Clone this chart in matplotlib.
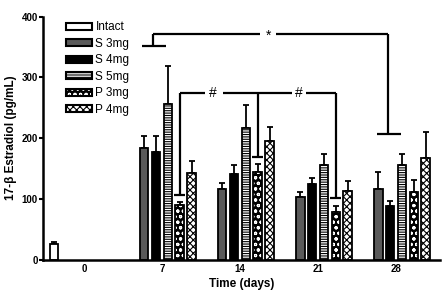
import numpy as np
import matplotlib
matplotlib.use('Agg')
import matplotlib.pyplot as plt
from matplotlib.patches import Patch
from matplotlib.legend_handler import HandlerTuple

# data (nan = no bar)
days = ['0', '7', '14', '21', '28']
groups = ['Intact', 'S 3mg', 'S 4mg', 'S 5mg', 'P 3mg', 'P 4mg']
nan = np.nan
intact = [25.5, nan, nan, nan, nan]
intact_err = [3, nan, nan, nan, nan]
s3 = [nan, 183, 115.5, 103, 116.5]
s3_err = [nan, 20, 10.5, 8.6, 27]
s4 = [nan, 177, 141, 124, 89]
s4_err = [nan, 27, 15, 10, 8]
s5 = [nan, 256, 217, 155.6, 155.6]
s5_err = [nan, 62, 37, 17.4, 17.4]
p3 = [nan, 90, 144.5, 77.7, 110.6]
p3_err = [nan, 4, 12.5, 9.8, 20.4]
p4 = [nan, 143, 195.6, 112.8, 168]
p4_err = [nan, 19, 23, 17, 42]

# significance brackets
star_y = 371
star_left = (0.885, 352)
star_right = (3.90, 206)
hash_y = 273.6
hash_caps = [107, 169, 100.7]   # P3 caps at day 7, 14, 21

plt.rcParams['font.family'] = ['Liberation Sans', 'DejaVu Sans']
plt.rcParams['hatch.linewidth'] = 0.8

fig = plt.figure(figsize=(4.42, 2.96), dpi=100)
ax = fig.add_axes([0.098, 0.123, 0.897, 0.821])

x = np.arange(len(days))
pitch = 0.1526
width = 0.112

values = [intact, s3, s4, s5, p3, p4]
errs = [intact_err, s3_err, s4_err, s5_err, p3_err, p4_err]
faces = ['white', '#5a5a5a', 'black', 'white', 'black', 'white']
hatches = [None, None, None, '-------', 'ooo', 'xxxxx']
hatch_cols = [None, None, None, 'black', 'white', 'black']

handles = []
for i in range(6):
    xi = x + (i - 2.5) * pitch
    v = np.array(values[i], dtype=float)
    e = np.array(errs[i], dtype=float)
    ax.errorbar(xi, v, yerr=[np.zeros_like(e), e], fmt='none', ecolor='black',
                elinewidth=1.3, capsize=2.5, capthick=1.3, zorder=1)
    if hatches[i] is None:
        ax.bar(xi, v, width, color=faces[i], edgecolor='black', linewidth=1.3, zorder=2)
        handles.append(Patch(facecolor=faces[i], edgecolor='black', linewidth=1.5))
    else:
        ax.bar(xi, v, width, color=faces[i], edgecolor=hatch_cols[i], hatch=hatches[i],
               linewidth=0, zorder=2)
        ax.bar(xi, v, width, color='none', edgecolor='black', linewidth=1.3, zorder=3)
        handles.append((Patch(facecolor=faces[i], edgecolor=hatch_cols[i], hatch=hatches[i], linewidth=0),
                        Patch(facecolor='none', edgecolor='black', linewidth=1.5)))

# brackets
lk = dict(color='black', linewidth=1.6, solid_capstyle='butt', clip_on=False)
# star bracket
sx0, sy0 = star_left
sx1, sy1 = star_right
ax.plot([sx0, 2.256], [star_y, star_y], **lk)
ax.plot([2.462, sx1], [star_y, star_y], **lk)
ax.plot([sx0, sx0], [sy0, star_y], **lk)
ax.plot([sx0 - 0.145, sx0 + 0.162], [sy0, sy0], **lk)
ax.plot([sx1, sx1], [sy1, star_y], **lk)
ax.plot([sx1 - 0.145, sx1 + 0.162], [sy1, sy1], **lk)
ax.text(2.36, star_y - 3, '*', ha='center', va='center', fontsize=10)

# hash bracket
p3x = x[1:4] + 1.5 * pitch
ax.plot([p3x[0], 1.551], [hash_y, hash_y], **lk)
ax.plot([1.778, 2.66], [hash_y, hash_y], **lk)
ax.plot([2.84, p3x[2]], [hash_y, hash_y], **lk)
for px, cy in zip(p3x, hash_caps):
    ax.plot([px, px], [cy, hash_y], **lk)
    ax.plot([px - 0.07, px + 0.07], [cy, cy], **lk)
ax.text(1.658, hash_y, '#', ha='center', va='center', fontsize=10)
ax.text(2.75, hash_y, '#', ha='center', va='center', fontsize=10)

ax.set_xlim(-0.52, 4.56)
ax.set_ylim(0, 400)
ax.set_xticks(x)
ax.set_xticklabels(days, fontsize=7, fontweight='bold')
ax.set_yticks([0, 100, 200, 300, 400])
ax.set_yticklabels(['0', '100', '200', '300', '400'], fontsize=7, fontweight='bold')
ax.tick_params(axis='x', length=0, pad=3)
ax.tick_params(axis='y', length=3, width=1.5, pad=1)
for s in ['top', 'right']:
    ax.spines[s].set_visible(False)
for s in ['left', 'bottom']:
    ax.spines[s].set_linewidth(1.8)

ax.set_xlabel('Time (days)', fontsize=8.5, fontweight='bold', labelpad=3)
ax.set_ylabel('17-β Estradiol (pg/mL)', fontsize=8.5, fontweight='bold', labelpad=3)

ax.legend(handles, groups, loc='upper left', bbox_to_anchor=(0.045, 1.0), frameon=False,
          fontsize=8.5, handlelength=2.2, handleheight=0.55, handletextpad=0.3,
          labelspacing=0.38, borderaxespad=0,
          handler_map={tuple: HandlerTuple(ndivide=1)})

fig.savefig('out.png', dpi=100)
